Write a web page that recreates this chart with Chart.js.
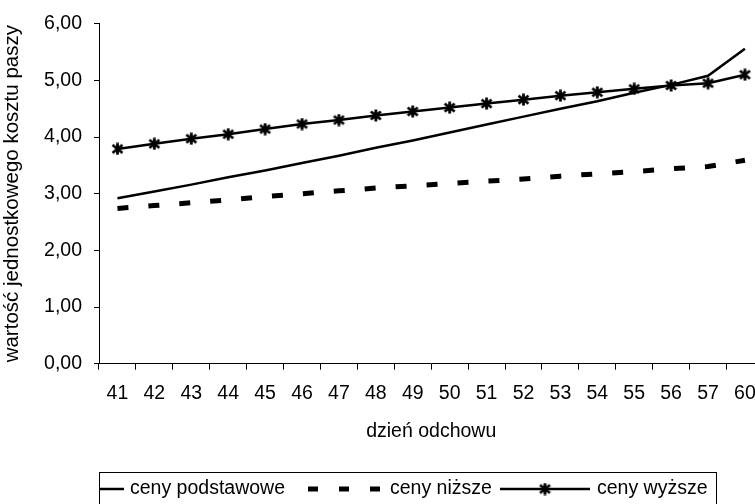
<!DOCTYPE html>
<html>
<head>
<meta charset="utf-8">
<script src="https://cdn.jsdelivr.net/npm/chart.js@4.4.1/dist/chart.umd.min.js"></script>
<style>
  html, body { margin: 0; padding: 0; overflow: hidden; background: #fff; }
  #wrap { width: 780px; height: 504px; }
</style>
</head>
<body>
<div id="wrap"><canvas id="chart" width="780" height="504"></canvas></div>
<script>
const days = ["41", "42", "43", "44", "45", "46", "47", "48", "49", "50", "51", "52", "53", "54", "55", "56", "57", "60"];
const cenyPodstawowe = [2.92, 3.04, 3.16, 3.29, 3.41, 3.54, 3.67, 3.81, 3.94, 4.08, 4.22, 4.36, 4.50, 4.63, 4.78, 4.92, 5.08, 5.56];
const cenyNizsze = [2.74, 2.79, 2.84, 2.89, 2.95, 3.00, 3.05, 3.10, 3.14, 3.18, 3.22, 3.26, 3.31, 3.35, 3.39, 3.44, 3.48, 3.59];
const cenyWyzsze = [3.79, 3.88, 3.97, 4.05, 4.14, 4.23, 4.30, 4.38, 4.45, 4.52, 4.59, 4.66, 4.73, 4.79, 4.85, 4.91, 4.95, 5.10];
const seriesNames = ["ceny podstawowe", "ceny niższe", "ceny wyższe"];

const FONT = "'Liberation Sans', Arial, sans-serif";
const FS = 19.5;

// excel-like star marker: X with a vertical bar
function makeStar(size) {
  const c = document.createElement("canvas");
  c.width = size;
  c.height = size;
  const g = c.getContext("2d");
  const m = 1.5, e = size - 1.5, mid = size / 2;
  g.strokeStyle = "#000";
  g.lineWidth = 2.8;
  g.beginPath();
  g.moveTo(m, m + 1); g.lineTo(e, e - 1);
  g.moveTo(e, m + 1); g.lineTo(m, e - 1);
  g.moveTo(mid, 0.5); g.lineTo(mid, size - 0.5);
  g.stroke();
  return c;
}
const star = makeStar(13);

// boxed legend under the chart, like the excel one
const boxLegend = {
  id: "boxLegend",
  afterDraw(chart) {
    const ctx = chart.ctx;
    const top = 472, left = 99, right = 716, bottom = 508, cy = 489;
    ctx.save();
    ctx.strokeStyle = "#000";
    ctx.lineWidth = 1;
    ctx.strokeRect(left + 0.5, top + 0.5, right - left, bottom - top);

    ctx.font = FS + "px " + FONT;
    ctx.fillStyle = "#000";
    ctx.textBaseline = "middle";

    // solid
    ctx.lineWidth = 2.5;
    ctx.beginPath();
    ctx.moveTo(100, cy); ctx.lineTo(124, cy);
    ctx.stroke();
    ctx.fillText(seriesNames[0], 130, cy);

    // dashed
    ctx.lineWidth = 5;
    ctx.setLineDash([10, 21]);
    ctx.beginPath();
    ctx.moveTo(308, cy); ctx.lineTo(383, cy);
    ctx.stroke();
    ctx.setLineDash([]);
    ctx.fillText(seriesNames[1], 390, cy);

    // star line
    ctx.lineWidth = 2.5;
    ctx.beginPath();
    ctx.moveTo(500, cy); ctx.lineTo(590, cy);
    ctx.stroke();
    ctx.drawImage(star, 545 - star.width / 2, cy - star.height / 2);
    ctx.fillText(seriesNames[2], 597, cy);
    ctx.restore();
  }
};

const tickFont = { family: FONT, size: FS };

new Chart(document.getElementById("chart"), {
  type: "line",
  data: {
    labels: days,
    datasets: [
      {
        label: seriesNames[0],
        data: cenyPodstawowe,
        borderColor: "#000",
        borderWidth: 2.5,
        pointRadius: 0,
        tension: 0
      },
      {
        label: seriesNames[1],
        data: cenyNizsze,
        borderColor: "#000",
        borderWidth: 5,
        borderDash: [11, 20],
        borderCapStyle: "butt",
        pointRadius: 0,
        tension: 0
      },
      {
        label: seriesNames[2],
        data: cenyWyzsze,
        borderColor: "#000",
        borderWidth: 2.5,
        pointStyle: star,
        pointRadius: 6,
        tension: 0
      }
    ]
  },
  options: {
    responsive: false,
    animation: false,
    layout: { padding: { top: 21.7, right: 16.6, bottom: 60.3, left: 0 } },
    plugins: { legend: { display: false }, tooltip: { enabled: false } },
    scales: {
      x: {
        offset: true,
        grid: { offset: true, drawOnChartArea: false, drawTicks: true, tickLength: 6, color: "#000", lineWidth: 1 },
        border: { color: "#000", width: 1 },
        ticks: { color: "#000", font: tickFont, padding: 12, maxRotation: 0, autoSkip: false },
        title: { display: true, text: "dzień odchowu", color: "#000", font: tickFont, padding: 0 },
        afterFit(scale) { scale.height = 80; }
      },
      y: {
        min: 0,
        max: 6,
        grid: { drawOnChartArea: false, drawTicks: true, tickLength: 5, color: "#000", lineWidth: 1 },
        border: { color: "#000", width: 1 },
        ticks: {
          stepSize: 1,
          color: "#000",
          font: tickFont,
          padding: 12,
          callback: v => v.toFixed(2).replace(".", ",")
        },
        title: { display: true, text: "wartość jednostkowego kosztu paszy", color: "#000", font: { family: FONT, size: 20.5 }, padding: 0 },
        afterFit(scale) { scale.width = 99; }
      }
    }
  },
  plugins: [boxLegend]
});
</script>
</body>
</html>
